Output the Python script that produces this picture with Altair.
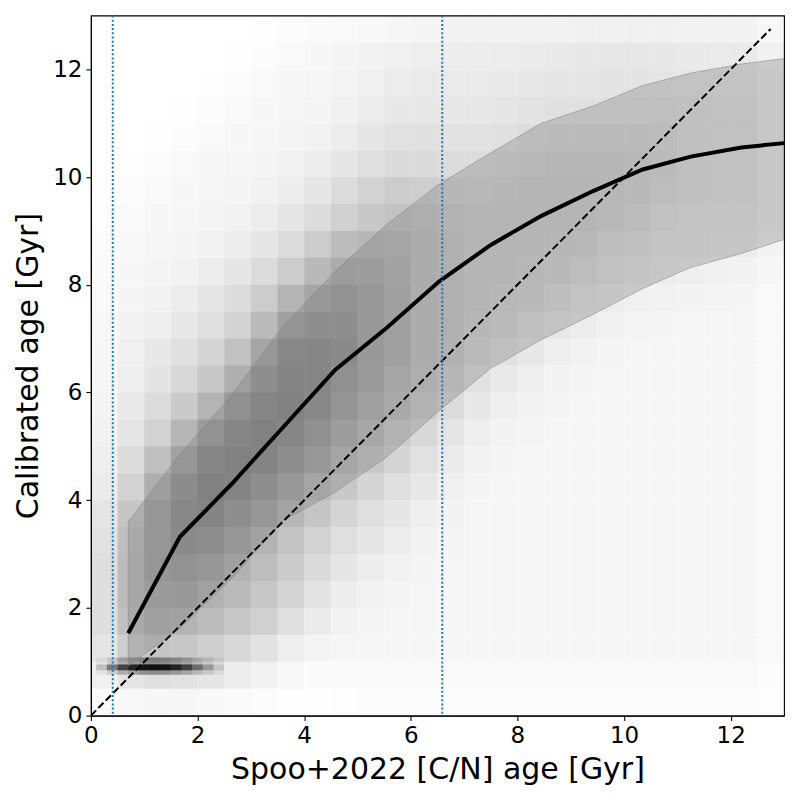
import altair as alt
import pandas as pd

# ---- binned statistics ----
bin_x = [0.70, 1.67, 2.64, 3.60, 4.58, 5.55, 6.53, 7.50, 8.45, 9.42, 10.35, 11.25, 12.20, 13.00]
median_age = [1.53, 3.32, 4.30, 5.35, 6.42, 7.20, 8.06, 8.74, 9.28, 9.74, 10.14, 10.38, 10.55, 10.63]
upper_age = [3.60, 4.85, 5.95, 7.22, 8.25, 9.12, 9.87, 10.45, 11.00, 11.32, 11.70, 11.93, 12.10, 12.20]
lower_age = [0.92, 1.62, 2.55, 3.62, 4.15, 4.80, 5.66, 6.45, 6.98, 7.45, 7.93, 8.32, 8.58, 8.84]

one_to_one = [0.0, 12.75]
cut_x = [0.41, 6.59]

# ---- scatter density (darkness level 0-9), one string per x cell, bottom -> top ----
cell_centers = [0.25, 0.75, 1.25, 1.75, 2.25, 2.75, 3.25, 3.75, 4.25, 4.75, 5.25, 5.75, 6.25,
                6.75, 7.25, 7.75, 8.25, 8.75, 9.25, 9.75, 10.25, 10.75, 11.25, 11.75, 12.25, 12.75]
haze_columns = [
    "0" + "2333" + "3332" + "22111111" + "000000000",
    "0255555443322211111" + "0000000",
    "035666665443322" + "11111" + "000000",
    "0355667776544332" + "11111" + "00000",
    "02455667776544332" + "11111" + "0000",
    "024555667776544332" + "11111" + "000",
    "0134555667777554332" + "11111" + "00",
    "00234455667777654332" + "11111" + "0",
    "001233445666777654332" + "11111",
    "0111233445666666654332" + "1111",
    "0" + "11112" + "334455666665543322" + "11",
    "0" + "111112" + "3344555555554433221",
    "0" + "1111112" + "334455555554433222",
    "0" + "11111111" + "233" + "44444444" + "333222",
    "0" + "111111111" + "223" + "4444444" + "333" + "222",
    "0" + "1111111111" + "223" + "4444444" + "33" + "222",
    "0" + "11111111111" + "223" + "444444" + "333" + "22",
    "0" + "111111111111" + "233" + "444444" + "33" + "22",
    "0" + "1111111111111" + "233" + "44444" + "333" + "2",
    "0" + "11111111111111" + "23" + "4444" + "3333" + "2",
    "0" + "11111111111111" + "2233" + "444" + "333" + "2",
    "0" + "111111111111111" + "2333" + "44" + "333" + "2",
    "0" + "111111111111111" + "22" + "333333" + "22",
    "0" + "111111111111111" + "22" + "333333" + "22",
    "0" + "1111111111111111" + "2" + "333333" + "22",
    "0" + "1111111111111111" + "2" + "333333" + "22",
]
opacity_levels = [0.0, 0.02, 0.06, 0.11, 0.17, 0.25, 0.38, 0.50, 0.62, 0.75]

# dense pile-up of young stars near 0.9 Gyr
pile_centers = [0.3, 0.5, 0.7, 0.9, 1.1, 1.3, 1.5, 1.7, 1.9, 2.1, 2.3]
pile_core_opacity = [0.30, 0.50, 0.70, 0.82, 0.88, 0.88, 0.82, 0.70, 0.50, 0.30, 0.18]
pile_halo_opacity = [0.10, 0.18, 0.28, 0.35, 0.38, 0.38, 0.35, 0.30, 0.22, 0.15, 0.10]
pile_core = [0.84, 0.95]
pile_halo = [0.76, 1.08]

# ---- tables (each density cell is spread over a 3x3 neighbourhood for a soft look) ----
half = 0.75
haze_rows = []
for i, col in enumerate(haze_columns):
    for j, ch in enumerate(col):
        lvl = int(ch)
        if lvl == 0:
            continue
        t = opacity_levels[lvl]
        haze_rows.append({"x0": cell_centers[i] - half, "x1": cell_centers[i] + half,
                          "y0": cell_centers[j] - half, "y1": cell_centers[j] + half,
                          "op": 1 - (1 - t) ** (1 / 9)})
haze_df = pd.DataFrame(haze_rows)

pile_rows = []
for cx, oc, oh in zip(pile_centers, pile_core_opacity, pile_halo_opacity):
    pile_rows.append({"x0": cx - 0.2, "x1": cx + 0.2, "y0": pile_halo[0], "y1": pile_halo[1],
                      "op": 1 - (1 - oh) ** 0.5})
    pile_rows.append({"x0": cx - 0.2, "x1": cx + 0.2, "y0": pile_core[0], "y1": pile_core[1],
                      "op": 1 - (1 - oc) ** 0.5})
pile_df = pd.DataFrame(pile_rows)

band_df = pd.DataFrame({"x": bin_x, "lo": lower_age, "hi": upper_age, "med": median_age})
outline_df = pd.DataFrame({
    "x": bin_x + bin_x[::-1] + [bin_x[0]],
    "y": upper_age + lower_age[::-1] + [upper_age[0]],
})
outline_df["o"] = range(len(outline_df))
diag_df = pd.DataFrame({"x": one_to_one, "y": one_to_one})
cut_df = pd.DataFrame({"x": cut_x})

xs = alt.Scale(domain=[0, 13], nice=False, zero=False)
ys = alt.Scale(domain=[0, 13], nice=False, zero=False)
ticks = [0, 2, 4, 6, 8, 10, 12]

xaxis = alt.Axis(values=ticks, title="Spoo+2022 [C/N] age [Gyr]", labelFlush=False)
yaxis = alt.Axis(values=ticks, title="Calibrated age [Gyr]", labelFlush=False)

haze = alt.Chart(haze_df).mark_rect(color="black", strokeWidth=0, clip=True).encode(
    x=alt.X("x0:Q", scale=xs, axis=xaxis), x2="x1:Q",
    y=alt.Y("y0:Q", scale=ys, axis=yaxis), y2="y1:Q",
    opacity=alt.Opacity("op:Q", scale=None),
)
pile = alt.Chart(pile_df).mark_rect(color="black", strokeWidth=0, clip=True).encode(
    x=alt.X("x0:Q", scale=xs), x2="x1:Q",
    y=alt.Y("y0:Q", scale=ys), y2="y1:Q",
    opacity=alt.Opacity("op:Q", scale=None),
)
band = alt.Chart(band_df).mark_area(color="#808080", opacity=0.35, clip=True).encode(
    x=alt.X("x:Q", scale=xs), y=alt.Y("lo:Q", scale=ys), y2="hi:Q",
)
outline = alt.Chart(outline_df).mark_line(color="#808080", opacity=0.5, strokeWidth=1, clip=True).encode(
    x=alt.X("x:Q", scale=xs), y=alt.Y("y:Q", scale=ys), order="o:Q",
)
median = alt.Chart(band_df).mark_line(color="black", strokeWidth=4, clip=True).encode(
    x=alt.X("x:Q", scale=xs), y=alt.Y("med:Q", scale=ys),
)
diag = alt.Chart(diag_df).mark_line(color="black", strokeWidth=2, strokeDash=[7.4, 3.2], clip=True).encode(
    x=alt.X("x:Q", scale=xs), y=alt.Y("y:Q", scale=ys),
)
cuts = alt.Chart(cut_df).mark_rule(color="#1f77b4", strokeWidth=2, strokeDash=[2, 2.2]).encode(
    x=alt.X("x:Q", scale=xs),
)

chart = alt.layer(haze, pile, band, outline, median, diag, cuts).properties(
    width=694, height=701,
    autosize=alt.AutoSizeParams(type="none"),
    padding={"left": 83, "top": 7, "right": 8, "bottom": 74},
).configure(font="DejaVu Sans").configure_view(
    stroke="black", strokeWidth=1.1
).configure_axis(
    grid=False, domainColor="black", domainWidth=1.1, tickColor="black", tickWidth=1.1,
    tickSize=5, labelFontSize=23, labelColor="black", labelPadding=4,
    titleFontSize=30, titleFontWeight="normal", titleColor="black",
    labelFont="DejaVu Sans", titleFont="DejaVu Sans",
).configure_axisX(titlePadding=7).configure_axisY(titlePadding=9)

chart.save("out.html", embed_options={"renderer": "svg", "actions": False})
